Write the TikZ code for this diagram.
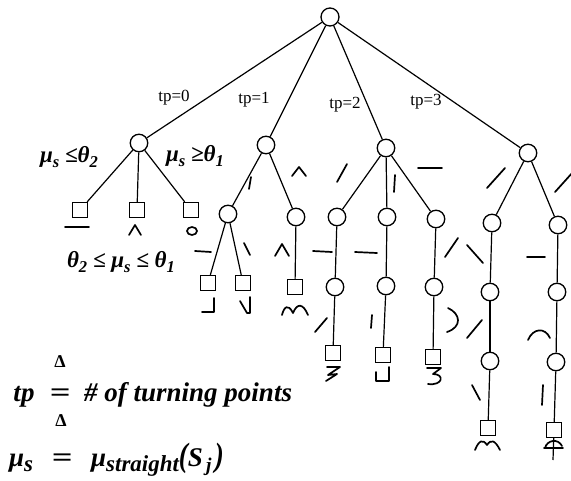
\documentclass[tikz,border=0pt]{standalone}
\usepackage{fontspec}
\usepackage{graphicx}
\setmainfont{Liberation Serif}
\newcommand\sbx[2][0.72]{\raisebox{-0.22em}{\scalebox{#1}{#2}}}
\newcommand\wideeq{\scalebox{1.35}[1]{=}}
\begin{document}
\begin{tikzpicture}[x=1pt,y=-1pt,
  st/.style={circle,draw,line width=1.3pt,minimum size=17.5pt,inner sep=0pt},
  leaf/.style={rectangle,draw,line width=1.3pt,minimum size=15pt,inner sep=0pt},
  edge/.style={line width=1.2pt},
  pen/.style={line width=1.7pt,line cap=round,line join=round},
  tplab/.style={font=\fontsize{17}{19}\selectfont,inner sep=0pt},
  cond/.style={font=\fontsize{23}{26}\selectfont\bfseries\itshape,inner sep=0pt},
  defn/.style={font=\fontsize{27}{30}\selectfont\bfseries\itshape,inner sep=0pt},
  delta/.style={font=\fontsize{18}{18}\selectfont\bfseries,inner sep=0pt},
]
\useasboundingbox (0,0) rectangle (571,480);

% states
\node[st,minimum size=18pt] (root) at (330,17) {};
\node[st] (A) at (139,143) {};
\node[st] (B) at (266,145) {};
\node[st] (C) at (386,148) {};
\node[st] (D) at (528,153) {};
\node[st] (B1) at (228,214) {};
\node[st] (B2) at (296,217) {};
\node[st] (C1) at (337,217) {};
\node[st] (C2) at (387,217) {};
\node[st] (C3) at (436,219) {};
\node[st] (C1b) at (335,287) {};
\node[st] (C2b) at (386,286) {};
\node[st] (C3b) at (434,287) {};
\node[st] (D1) at (492,223) {};
\node[st] (D2) at (558,225) {};
\node[st] (D1b) at (490,292) {};
\node[st] (D2b) at (557,292) {};
\node[st] (D1c) at (490,361) {};
\node[st] (D2c) at (556,362) {};

% leaves
\node[leaf] (A1) at (80,210) {};
\node[leaf] (A2) at (137,210) {};
\node[leaf] (A3) at (191,210) {};
\node[leaf] (B1x) at (208,283) {};
\node[leaf] (B1y) at (243,283) {};
\node[leaf] (B2x) at (295,287) {};
\node[leaf] (C1x) at (333,353) {};
\node[leaf] (C2x) at (383,355) {};
\node[leaf] (C3x) at (433,357) {};
\node[leaf] (D1x) at (488,428) {};
\node[leaf] (D2x) at (554,430) {};
\coordinate (D2end) at (553,460);

% connectors
\draw[edge] (root) -- (A);
\draw[edge] (root) -- (B);
\draw[edge] (root) -- (C);
\draw[edge] (root) -- (D);
\draw[edge] (A) -- (A1);
\draw[edge] (A) -- (A2);
\draw[edge] (A) -- (A3);
\draw[edge] (B) -- (B1);
\draw[edge] (B) -- (B2);
\draw[edge] (B1) -- (B1x);
\draw[edge] (B1) -- (B1y);
\draw[edge] (B2) -- (B2x);
\draw[edge] (C) -- (C1);
\draw[edge] (C) -- (C2);
\draw[edge] (C) -- (C3);
\draw[edge] (C1) -- (C1b);
\draw[edge] (C2) -- (C2b);
\draw[edge] (C3) -- (C3b);
\draw[edge] (C1b) -- (C1x);
\draw[edge] (C2b) -- (C2x);
\draw[edge] (C3b) -- (C3x);
\draw[edge] (D) -- (D1);
\draw[edge] (D) -- (D2);
\draw[edge] (D1) -- (D1b);
\draw[edge] (D2) -- (D2b);
\draw[edge] (D1b) -- (D1c);
\draw[edge] (D2b) -- (D2c);
\draw[edge] (D1c) -- (D1x);
\draw[edge] (D2c) -- (D2x);
\draw[edge] (D2x) -- (D2end);

% branch labels
\node[tplab] (t0) at (174,98) {tp=0};
\node[tplab] (t1) at (254,100) {tp=1};
\node[tplab] (t2) at (345,105) {tp=2};
\node[tplab] (t3) at (426,102) {tp=3};

\node[cond] (c1) at (69,157) {μ\sbx{s} ≤θ\sbx{2}};
\node[cond] (c2) at (195,156) {μ\sbx{s} ≥θ\sbx{1}};
\node[cond] (c3) at (121,262) {θ\sbx{2} ≤ μ\sbx{s} ≤ θ\sbx{1}};

% stroke codes on the edges
\draw[pen] (249,189) -- (251,177);
\draw[pen] (292,176) -- (299,167) -- (306,176);
\draw[pen] (337,182) -- (347,164);
\draw[pen] (394,192) -- (395,175);
\draw[pen] (418,168) -- (442,168);
\draw[pen] (487,188) -- (505,168);
\draw[pen] (555,192) -- (573,172);
\draw[pen] (195,251) -- (211,252);
\draw[pen] (244,243) -- (250,255);
\draw[pen] (275,256) -- (282,244) -- (289,256);
\draw[pen] (313,251) -- (332,252);
\draw[pen] (355,252) -- (377,253);
\draw[pen] (445,257) -- (458,238);
\draw[pen] (467,245) -- (483,263);
\draw[pen] (527,257) -- (545,257);
\draw[pen] (315,332) -- (327,318);
\draw[pen] (371,328) -- (372,315);
\draw[pen] (448,308) .. controls (461,314) and (462,327) .. (447,332);
\draw[pen] (467,338) -- (482,320);
\draw[pen] (528,340) .. controls (533,328) and (545,327) .. (550,338);
\draw[pen] (472,385) -- (480,400);
\draw[pen] (542,405) -- (543,385);

% stroke codes under the leaves
\draw[pen] (65,227) -- (89,227);
\draw[pen] (129,235) -- (135,225) -- (141,235);
\draw[pen] (192,231) ellipse [x radius=5, y radius=4];
\draw[pen] (202,312) -- (214,312) -- (214,298);
\draw[pen] (240,301) -- (247,313) -- (250,313) -- (250,297);
\draw[pen] (282,315) .. controls (284,307) and (288,303) .. (293,313) .. controls (297,303) and (303,303) .. (308,315);
\draw[pen] (327,367) -- (340,367) -- (328,375) -- (337,374) -- (326,381);
\draw[pen] (376,372) -- (376,381) -- (389,381) -- (389,367);
\draw[pen] (427,368) -- (441,368) -- (433,374) .. controls (445,374) and (443,386) .. (428,384);
\draw[pen] (475,450) .. controls (479,440) and (483,439) .. (487,445) .. controls (491,439) and (495,440) .. (500,450);
\draw[pen] (544,448) -- (563,448);
\draw[pen] (545,448) .. controls (547,440) and (558,438) .. (562,446);

% definitions
\node[delta] (del1) at (60,362) {Δ};
\node[defn,anchor=base] (tpsym) at (24,401) {tp};
\node[defn,anchor=base] (eq1) at (60,401) {\wideeq};
\node[defn,anchor=base west] (tpdef) at (84,401) {\# of turning points};
\node[delta] (del2) at (61,421) {Δ};
\node[defn,anchor=base] (musym) at (21,466) {μ\sbx[0.85]{s}};
\node[defn,anchor=base] (eq2) at (62,466) {\wideeq};
\node[defn,anchor=base west] (mudef) at (91,466) {μ\sbx[0.85]{straight}\scalebox{1}[1.25]{(}S\sbx{\,j\,}\scalebox{1}[1.25]{)}};
\end{tikzpicture}
\end{document}
